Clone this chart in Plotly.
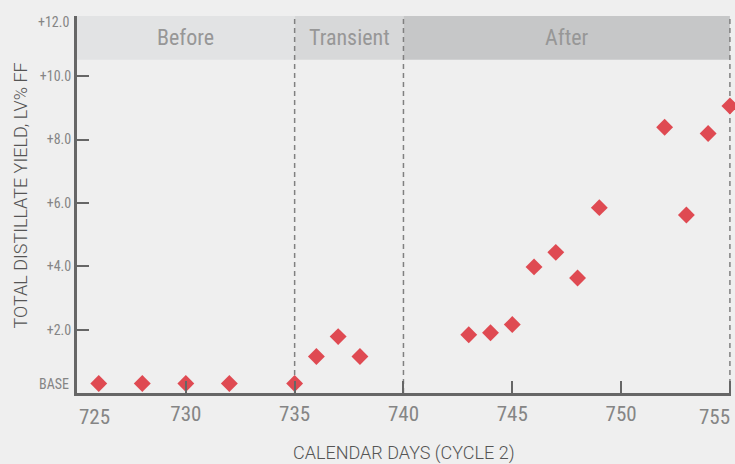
import plotly.graph_objects as go

# ---- data ----
days = [726, 728, 730, 732, 735, 736, 737, 738, 743, 744, 745, 746, 747, 748, 749, 752, 753, 754, 755]
yield_lv = [0.3, 0.3, 0.3, 0.3, 0.3, 1.15, 1.78, 1.15, 1.84, 1.9, 2.16, 3.98, 4.44, 3.63, 5.85, 8.39, 5.62, 8.19, 9.06]

x_ticks = [725, 730, 735, 740, 745, 750, 755]
y_ticks = [2, 4, 6, 8, 10]
y_tick_labels = ["+2.0", "+4.0", "+6.0", "+8.0", "+10.0"]

phase_names = ["Before", "Transient", "After"]
phase_starts = [725, 735, 740]
phase_ends = [735, 740, 755]
phase_colors = ["#e2e3e4", "#d7d8d9", "#c6c7c8"]
boundaries = [735, 740, 755]

X_MIN, X_MAX = 725, 755.05
Y_MIN, Y_MAX = 0, 11.9
BAND_BOTTOM = 10.52

NARROW = "Roboto Condensed, Liberation Sans Narrow, Roboto, sans-serif"
TITLE_FONT = "Roboto, sans-serif"
AXIS_C = "#666666"
TEXT_C = "#858585"
BG = "#efefef"

fig = go.Figure()
fig.add_trace(go.Scatter(
    x=days, y=yield_lv, mode="markers",
    marker=dict(symbol="diamond", size=13, color="#df4a52", line=dict(width=0)),
    cliponaxis=False, showlegend=False, hoverinfo="x+y",
))

shapes = []
for s, e, c in zip(phase_starts, phase_ends, phase_colors):
    shapes.append(dict(type="rect", xref="x", yref="y", x0=s, x1=e, y0=BAND_BOTTOM, y1=Y_MAX,
                       fillcolor=c, line=dict(width=0), layer="below"))
for b in boundaries:
    shapes.append(dict(type="line", xref="x", yref="y", x0=b, x1=b, y0=Y_MIN, y1=Y_MAX,
                       line=dict(color="#808080", width=1.5, dash="5px,4px"), layer="below"))

annotations = []
for name, s, e in zip(phase_names, phase_starts, phase_ends):
    annotations.append(dict(x=(s + e) / 2, y=(BAND_BOTTOM + Y_MAX) / 2, xref="x", yref="y",
                            text=name, showarrow=False,
                            font=dict(family=NARROW, size=22, color="#979797")))
# end tick labels shifted inward as in the original
annotations.append(dict(x=0, xref="paper", y=Y_MAX, yref="y", text="+12.0", showarrow=False,
                        xanchor="right", yanchor="top", xshift=-6, yshift=4,
                        font=dict(family=NARROW, size=14, color=TEXT_C)))
annotations.append(dict(x=0, xref="paper", y=0.3, yref="y", text="BASE", showarrow=False,
                        xanchor="right", yanchor="middle", xshift=-6,
                        font=dict(family=NARROW, size=14, color=TEXT_C)))
annotations.append(dict(x=725, xref="x", y=0, yref="paper", text="725", showarrow=False,
                        xanchor="left", yanchor="middle", yshift=-24,
                        font=dict(family=NARROW, size=21, color=TEXT_C)))
annotations.append(dict(x=755, xref="x", y=0, yref="paper", text="755", showarrow=False,
                        xanchor="right", yanchor="middle", yshift=-24, xshift=2,
                        font=dict(family=NARROW, size=21, color=TEXT_C)))
# axis titles
annotations.append(dict(x=0.5, xref="paper", y=0, yref="paper", text="CALENDAR DAYS (CYCLE 2)",
                        showarrow=False, xanchor="center", yanchor="middle", yshift=-60,
                        font=dict(family=TITLE_FONT, size=18, color="#555555", weight=300)))
annotations.append(dict(x=0, xref="paper", y=0.5, yref="paper", text="TOTAL DISTILLATE YIELD, LV% FF",
                        showarrow=False, xanchor="center", yanchor="middle", xshift=-57, yshift=9,
                        textangle=-90, font=dict(family=TITLE_FONT, size=18, color="#555555", weight=300)))

fig.update_layout(
    width=735, height=464,
    margin=dict(l=77, r=4, t=16, b=71),
    paper_bgcolor=BG, plot_bgcolor=BG,
    shapes=shapes, annotations=annotations,
    showlegend=False,
    xaxis=dict(range=[X_MIN, X_MAX], tickvals=x_ticks,
               ticktext=["" if v in (725, 755) else str(v) for v in x_ticks],
               ticks="inside", ticklen=12, tickwidth=2, tickcolor=AXIS_C,
               showline=True, linecolor=AXIS_C, linewidth=3, showgrid=False, zeroline=False,
               tickfont=dict(family=NARROW, size=21, color=TEXT_C)),
    yaxis=dict(range=[Y_MIN, Y_MAX], tickvals=y_ticks, ticktext=y_tick_labels,
               ticks="inside", ticklen=12, tickwidth=2, tickcolor=AXIS_C,
               showline=True, linecolor=AXIS_C, linewidth=3, showgrid=False, zeroline=False,
               tickfont=dict(family=NARROW, size=14, color=TEXT_C)),
)

fig.write_html("out.html", config={"displayModeBar": False},
               post_script="document.body.style.margin='0';document.body.style.background='#efefef';")
